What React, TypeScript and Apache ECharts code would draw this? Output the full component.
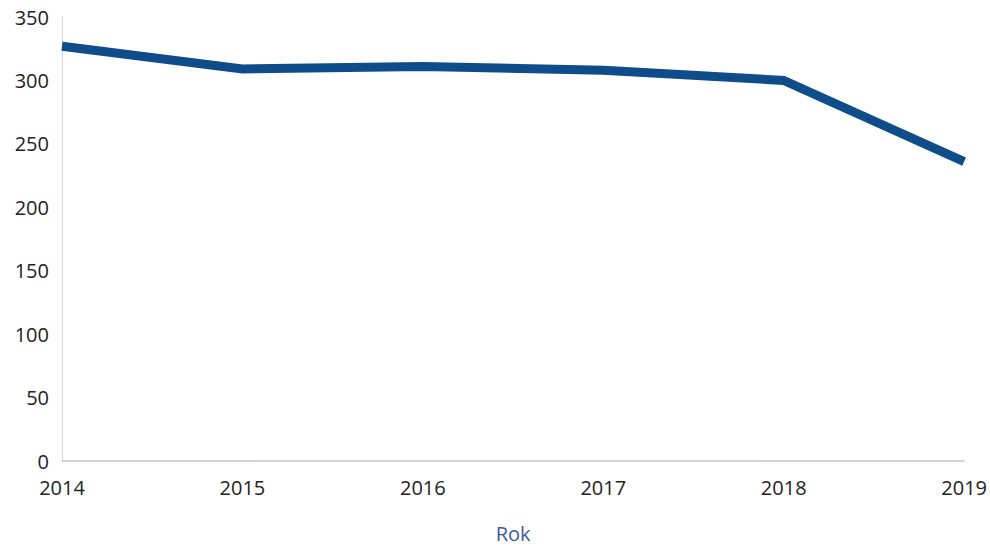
import React, { useEffect, useRef } from "react";
import * as echarts from "echarts";

const years = ["2014", "2015", "2016", "2017", "2018", "2019"];
const values = [327, 309, 311, 308, 300, 236];
const yTicks = { min: 0, max: 350, interval: 50 };
const xAxisName = "Rok";

export default function App() {
  const ref = useRef<HTMLDivElement>(null);
  useEffect(() => {
    if (!ref.current) return;
    const chart = echarts.init(ref.current, undefined, { renderer: "svg" });
    chart.setOption({
      animation: false,
      backgroundColor: "#ffffff",
      textStyle: { fontFamily: "Open Sans" },
      grid: { left: 62, right: 25, top: 17, bottom: 87, containLabel: false },
      xAxis: {
        type: "category",
        data: years,
        boundaryGap: false,
        name: xAxisName,
        nameLocation: "middle",
        nameGap: 62,
        nameTextStyle: { color: "#3d5a99", fontSize: 20, fontFamily: "Open Sans" },
        axisLine: { show: true, lineStyle: { color: "#c8c8c8", width: 1.5 } },
        axisTick: { show: false },
        axisLabel: { color: "#222", fontSize: 20, margin: 16, fontFamily: "Open Sans" },
        splitLine: { show: false },
      },
      yAxis: {
        type: "value",
        min: yTicks.min,
        max: yTicks.max,
        interval: yTicks.interval,
        axisLine: { show: true, lineStyle: { color: "#d8d8d8", width: 1 } },
        axisTick: { show: false },
        axisLabel: { color: "#222", fontSize: 20, margin: 13, fontFamily: "Open Sans" },
        splitLine: { show: false },
      },
      series: [
        {
          type: "line",
          data: values,
          symbol: "none",
          lineStyle: { color: "#0f4c8a", width: 9, join: "miter" },
          itemStyle: { color: "#0f4c8a" },
        },
      ],
    });
    return () => chart.dispose();
  }, []);
  return <div ref={ref} style={{ width: 990, height: 548, position: "absolute", left: 0, top: 0 }} />;
}
